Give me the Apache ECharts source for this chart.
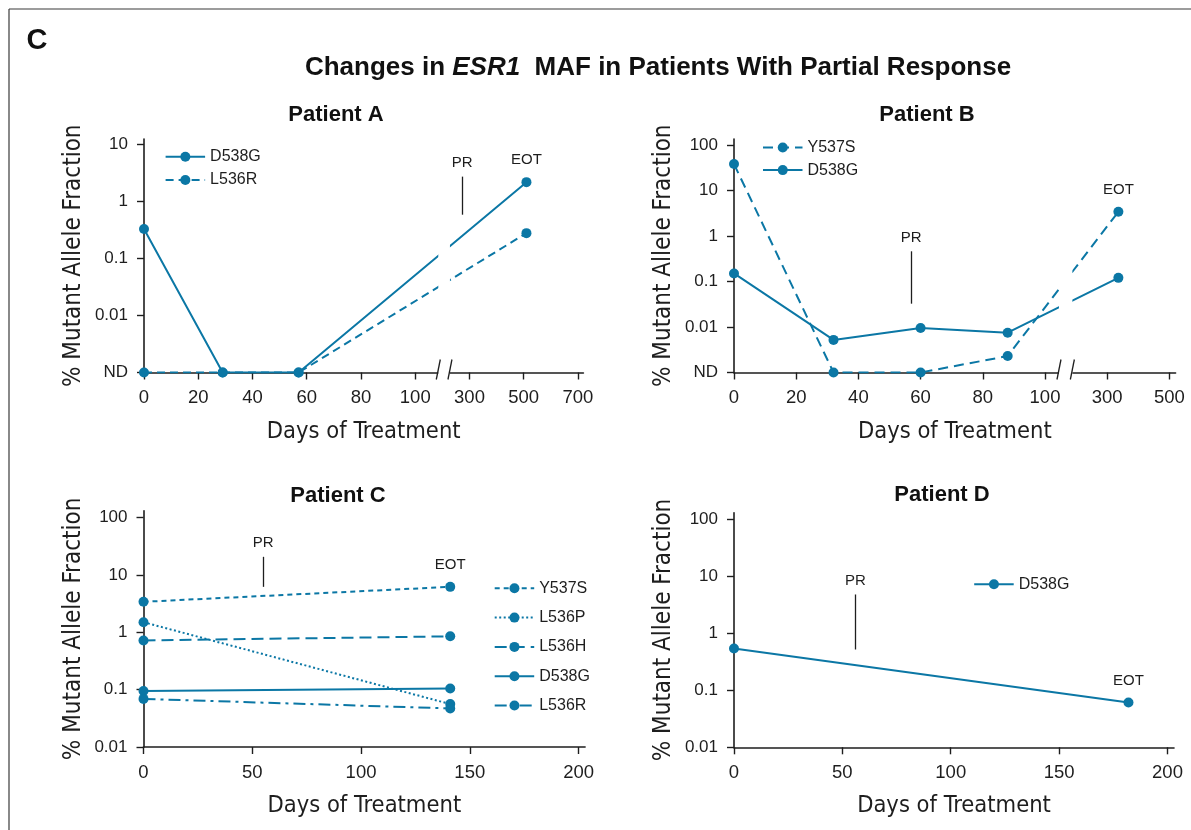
<!DOCTYPE html>
<html><head><meta charset="utf-8">
<script src="https://cdn.jsdelivr.net/npm/echarts@6/dist/echarts.min.js"></script>
<style>html,body{margin:0;padding:0;background:#fff}#c{width:1191px;height:830px}</style>
</head><body><div id="c"></div><script>
const ND = 'ND';
// ---- Patient A ----
const daysA = [0, 29, 57, 510];
const a_D538G = [0.33, ND, ND, 2.2];
const a_L536R = [ND, ND, ND, 0.28];
// ---- Patient B ----
const daysB = [0, 32, 60, 88, 336];
const b_Y537S = [38, ND, ND, 0.0023, 3.4];
const b_D538G = [0.15, 0.0052, 0.0095, 0.0075, 0.12];
// ---- Patient C ----
const daysC = [0, 141];
const c_Y537S = [3.4, 6.2];
const c_L536P = [1.5, 0.056];
const c_L536H = [0.72, 0.85];
const c_D538G = [0.095, 0.105];
const c_L536R = [0.069, 0.047];
// ---- Patient D ----
const daysD = [0, 182];
const d_D538G = [0.54, 0.061];
// ---- tick labels ----
const xTicksA = [0, 20, 40, 60, 80, 100, 300, 500, 700];
const xTicksB = [0, 20, 40, 60, 80, 100, 300, 500];
const xTicksCD = [0, 50, 100, 150, 200];
const yTicksA = [ND, 0.01, 0.1, 1, 10];
const yTicksB = [ND, 0.01, 0.1, 1, 10, 100];
const yTicksCD = [0.01, 0.1, 1, 10, 100];
// ---- annotations: PR [day, low, high], EOT [day, value] ----
const prA = [273, 0.59, 2.75];
const eotA = [510, 2.2];
const prB = [57, 0.0325, 0.46];
const eotB = [336, 3.4];
const prC = [55, 6.2, 20.7];
const eotC = [141, 6.2];
const prD = [56, 0.52, 4.8];
const eotD = [182, 0.061];

const ND_LEVEL = 0.001;
const COLOR = '#0b77a5';
const INK = '#1e1e1e';
const NARROW = "'Liberation Sans Narrow','DejaVu Sans Condensed','Arial Narrow',sans-serif";
const SANS = "'Liberation Sans',Arial,Helvetica,sans-serif";

// broken axis scale: days beyond 100 compressed 10x
const brk = d => d <= 100 ? d : 100 + (d - 100) / 10;
const unbrk = v => v <= 100 ? v : 100 + (v - 100) * 10;
const ident = d => d;
const yv = v => v === ND ? ND_LEVEL : v;
const fmtY = v => Math.abs(v - ND_LEVEL) < 1e-9 ? 'ND' : String(parseFloat((+v).toPrecision(4)));

const panels = [
  {key:'A', grid:{left:144, top:139, width:439.4, height:233.5}, xmax:162, tx:brk, xTicks:xTicksA,
   ymin:ND_LEVEL, ymax:Math.pow(10,1.1), yTicks:yTicksA, brk:[108.5,112.8],
   series:[['D538G', daysA, a_D538G, 'solid'], ['L536R', daysA, a_L536R, [8,5]]],
   pr:prA, eot:eotA, eotSeries:0,
   legend:{left:164.6, top:148.7, itemGap:7.3, orient:'vertical'}},
  {key:'B', grid:{left:734, top:139, width:441.6, height:233.5}, xmax:142, tx:brk, xTicks:xTicksB,
   ymin:ND_LEVEL, ymax:Math.pow(10,2.13), yTicks:yTicksB, brk:[104.5,108.8],
   series:[['Y537S', daysB, b_Y537S, [10,6]], ['D538G', daysB, b_D538G, 'solid']],
   pr:prB, eot:eotB, eotSeries:0,
   legend:{left:762, top:139.5, itemGap:6.6, orient:'vertical'}},
  {key:'C', grid:{left:143.5, top:510.7, width:441.6, height:236.3}, xmax:203, tx:ident, xTicks:xTicksCD,
   ymin:0.01, ymax:Math.pow(10,2.12), yTicks:yTicksCD, brk:null,
   series:[['Y537S', daysC, c_Y537S, [5,4]], ['L536P', daysC, c_L536P, [2,2.5]], ['L536H', daysC, c_L536H, [12,6]],
           ['D538G', daysC, c_D538G, 'solid'], ['L536R', daysC, c_L536R, [12,5,3,5]]],
   pr:prC, eot:eotC, eotSeries:0,
   legend:{left:493.7, top:580.3, itemGap:13.3, orient:'vertical'}},
  {key:'D', grid:{left:734, top:512.7, width:440, height:234.6}, xmax:203, tx:ident, xTicks:xTicksCD,
   ymin:0.01, ymax:Math.pow(10,2.116), yTicks:yTicksCD, brk:null,
   series:[['D538G', daysD, d_D538G, 'solid']],
   pr:prD, eot:eotD, eotSeries:0,
   legend:{left:973.2, top:576.3, itemGap:10, orient:'vertical'}}
];

const grids = [], xAxes = [], yAxes = [], series = [], legends = [];
panels.forEach((p, i) => {
  grids.push(Object.assign({outerBoundsMode:'none', containLabel:false}, p.grid));
  const isBrk = p.tx === brk;
  xAxes.push({
    type:'value', gridIndex:i, min:0, max:p.xmax,
    name:'Days of Treatment', nameLocation:'middle', nameGap:47,
    nameTextStyle:{fontFamily:NARROW, fontSize:23.5, color:INK},
    axisLine:{show:true, lineStyle:{color:INK, width:1.6}},
    axisTick:{show:true, length:7, lineStyle:{color:INK, width:1.4}, customValues:p.xTicks.map(p.tx)},
    axisLabel:{show:true, margin:16, fontFamily:SANS, fontSize:18.5, color:INK,
      customValues:p.xTicks.map(p.tx),
      formatter: v => String(Math.round(isBrk ? unbrk(v) : v))},
    splitLine:{show:false}
  });
  yAxes.push({
    type:'log', logBase:10, gridIndex:i, min:p.ymin, max:p.ymax,
    name:'% Mutant Allele Fraction', nameLocation:'middle', nameGap:58, nameRotate:90,
    nameTextStyle:{fontFamily:NARROW, fontSize:24, color:INK},
    axisLine:{show:true, lineStyle:{color:INK, width:1.6}},
    axisTick:{show:true, length:7, lineStyle:{color:INK, width:1.4}, customValues:p.yTicks.map(yv)},
    axisLabel:{show:true, margin:16, fontFamily:SANS, fontSize:17, color:INK,
      customValues:p.yTicks.map(yv), formatter: fmtY},
    splitLine:{show:false}, minorTick:{show:false}
  });
  const names = [];
  p.series.forEach(([nm, days, vals, dash], j) => {
    const full = p.key + '|' + nm;
    names.push(full);
    const s = {
      type:'line', name:full, xAxisIndex:i, yAxisIndex:i,
      data: days.map((d, k) => [p.tx(d), yv(vals[k])]),
      symbol:'circle', symbolSize:10, showSymbol:true,
      lineStyle:{color:COLOR, width:2, type:dash},
      itemStyle:{color:COLOR}, color:COLOR,
      emphasis:{disabled:true}, silent:true, z:3 + j
    };
    if (j === 0) {
      s.markLine = {silent:true, animation:false, symbol:['none','none'],
        lineStyle:{color:INK, width:1.3, type:'solid'},
        label:{show:true, position:'end', formatter:'PR', color:INK, fontFamily:SANS, fontSize:15, distance:6},
        emphasis:{disabled:true},
        data:[[{coord:[p.tx(p.pr[0]), p.pr[1]]}, {coord:[p.tx(p.pr[0]), p.pr[2]]}]]};
    }
    if (j === p.eotSeries) {
      s.markPoint = {silent:true, animation:false, symbol:'circle', symbolSize:1,
        itemStyle:{color:'rgba(0,0,0,0)'},
        label:{show:true, position:'top', distance:14, formatter:'EOT', color:INK, fontFamily:SANS, fontSize:15},
        emphasis:{disabled:true},
        data:[{coord:[p.tx(p.eot[0]), p.eot[1]]}]};
    }
    series.push(s);
  });
  if (p.brk) {
    const ymin = p.ymin;
    series.push({
      type:'custom', xAxisIndex:i, yAxisIndex:i, z:20, silent:true, clip:false,
      data:[p.brk], encode:{x:[0,1]},
      renderItem:(params, api) => {
        const cs = params.coordSys;
        const xs = api.coord([api.value(0), ymin])[0];
        const xe = api.coord([api.value(1), ymin])[0];
        const ay = cs.y + cs.height;
        return {type:'group', children:[
          {type:'rect', shape:{x:xs, y:cs.y - 4, width:xe - xs, height:cs.height + 7}, style:{fill:'#fff'}},
          {type:'line', shape:{x1:xs - 2, y1:ay + 7, x2:xs + 2, y2:ay - 13}, style:{stroke:INK, lineWidth:1.3}},
          {type:'line', shape:{x1:xe - 2, y1:ay + 7, x2:xe + 2, y2:ay - 13}, style:{stroke:INK, lineWidth:1.3}}
        ]};
      }
    });
  }
  legends.push(Object.assign({
    data:names, selectedMode:false, itemWidth:39.5, itemHeight:12.5, padding:0,
    formatter: n => n.split('|')[1],
    textStyle:{fontFamily:SANS, fontSize:16, color:INK, lineHeight:16}
  }, p.legend));
});

const txt = (text, x, y, size) => ({type:'text', x, y, style:{text, font:"bold " + size + "px " + SANS, fill:'#111',
  textAlign:'center', align:'center', textVerticalAlign:'middle', verticalAlign:'middle'}});

const graphic = [
  {type:'line', shape:{x1:9, y1:9, x2:1191, y2:9}, style:{stroke:'#3a3a3a', lineWidth:1.2}},
  {type:'line', shape:{x1:9, y1:9, x2:9, y2:830}, style:{stroke:'#3a3a3a', lineWidth:1.2}},
  txt('C', 37, 41, 29),
  {type:'text', x:658, y:68, style:{text:'Changes in {i|ESR1}  MAF in Patients With Partial Response',
     font:"bold 26px "+SANS, fill:'#111', textAlign:'center', align:'center', textVerticalAlign:'middle', verticalAlign:'middle',
     rich:{i:{fontStyle:'italic', fontWeight:'bold', fontSize:26, fontFamily:SANS, fill:'#111', color:'#111'}}}},
  txt('Patient A', 336, 115, 22),
  txt('Patient B', 927, 115, 22),
  txt('Patient C', 338, 496, 22),
  txt('Patient D', 942, 495, 22)
];

const chart = echarts.init(document.getElementById('c'), null, {renderer:'canvas'});
chart.setOption({
  animation:false, backgroundColor:'#fff',
  grid:grids, xAxis:xAxes, yAxis:yAxes, series:series, legend:legends, graphic:graphic
});
</script></body></html>
